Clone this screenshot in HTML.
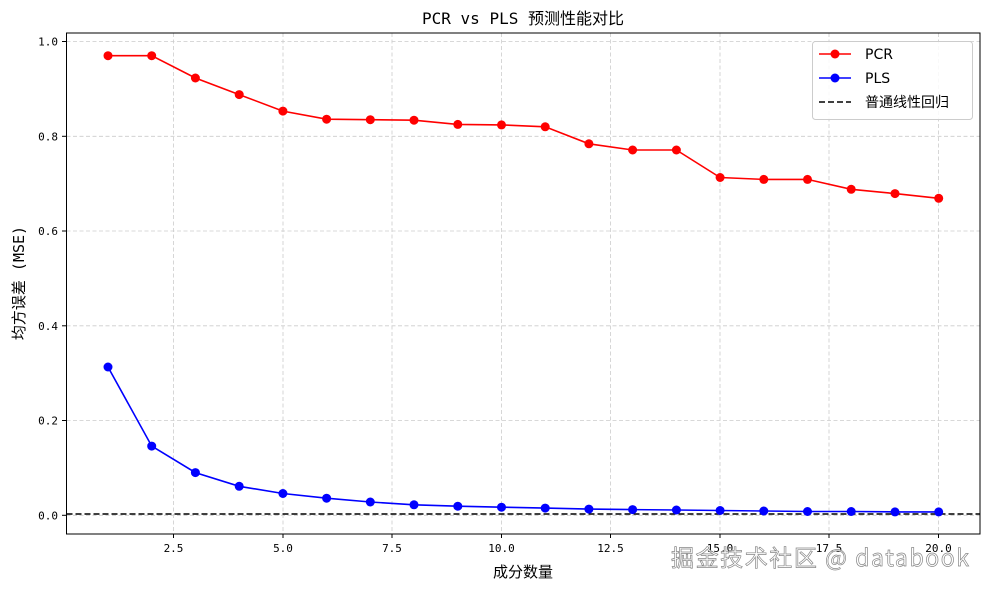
<!DOCTYPE html>
<html><head><meta charset="utf-8"><style>body{margin:0;background:#fff}svg{display:block}</style></head><body>
<svg width="989" height="590" xmlns="http://www.w3.org/2000/svg" font-family="'DejaVu Sans Mono','Noto Sans CJK SC',monospace">
<defs>
<marker id="mr" markerUnits="userSpaceOnUse" markerWidth="10" markerHeight="10" refX="5" refY="5"><circle cx="5" cy="5" r="4.5" fill="red"/></marker>
<marker id="mb" markerUnits="userSpaceOnUse" markerWidth="10" markerHeight="10" refX="5" refY="5"><circle cx="5" cy="5" r="4.5" fill="blue"/></marker>
</defs>
<rect width="989" height="590" fill="#fff"/>
<g stroke="#ccc" stroke-width="0.8" stroke-dasharray="4,2.5">
<line x1="173.5" y1="33" x2="173.5" y2="534"/><line x1="283" y1="33" x2="283" y2="534"/><line x1="392" y1="33" x2="392" y2="534"/><line x1="501.5" y1="33" x2="501.5" y2="534"/><line x1="610.5" y1="33" x2="610.5" y2="534"/><line x1="720" y1="33" x2="720" y2="534"/><line x1="829" y1="33" x2="829" y2="534"/><line x1="938.5" y1="33" x2="938.5" y2="534"/>
<line x1="66.5" y1="41.5" x2="980" y2="41.5"/><line x1="66.5" y1="136.3" x2="980" y2="136.3"/><line x1="66.5" y1="231" x2="980" y2="231"/><line x1="66.5" y1="325.8" x2="980" y2="325.8"/><line x1="66.5" y1="420.5" x2="980" y2="420.5"/><line x1="66.5" y1="515.3" x2="980" y2="515.3"/>
</g>
<line x1="66.5" y1="514" x2="980" y2="514" stroke="#000" stroke-width="1.6" stroke-dasharray="6,3"/>
<polyline fill="none" stroke="red" stroke-width="1.6" marker-start="url(#mr)" marker-mid="url(#mr)" marker-end="url(#mr)" points="108,55.7 151.7,55.7 195.4,78 239.2,94.6 282.9,111.1 326.6,119.2 370.3,119.7 414,120.2 457.8,124.4 501.5,124.9 545.2,126.8 588.9,143.8 632.6,150 676.4,150 720.1,177.5 763.8,179.4 807.5,179.4 851.2,189.3 895,193.6 938.7,198.3"/>
<polyline fill="none" stroke="blue" stroke-width="1.6" marker-start="url(#mb)" marker-mid="url(#mb)" marker-end="url(#mb)" points="108,367 151.7,446.1 195.4,472.6 239.2,486.3 282.9,493.5 326.6,498.2 370.3,502 414,504.8 457.8,506.2 501.5,507.2 545.2,508.1 588.9,509.1 632.6,509.6 676.4,510 720.1,510.5 763.8,511 807.5,511.5 851.2,511.5 895,511.9 938.7,511.9"/>
<rect x="66.5" y="33" width="913.5" height="501" fill="none" stroke="#000" stroke-width="1"/>
<g font-size="11" fill="#000" text-anchor="end">
<text x="58" y="45.5">1.0</text><text x="58" y="140.3">0.8</text><text x="58" y="235">0.6</text><text x="58" y="329.8">0.4</text><text x="58" y="424.5">0.2</text><text x="58" y="519.3">0.0</text>
</g>
<g stroke="#000"><line x1="62" y1="41.5" x2="66.5" y2="41.5"/><line x1="62" y1="136.3" x2="66.5" y2="136.3"/><line x1="62" y1="231" x2="66.5" y2="231"/><line x1="62" y1="325.8" x2="66.5" y2="325.8"/><line x1="62" y1="420.5" x2="66.5" y2="420.5"/><line x1="62" y1="515.3" x2="66.5" y2="515.3"/>
<line x1="173.5" y1="534" x2="173.5" y2="538"/><line x1="283" y1="534" x2="283" y2="538"/><line x1="392" y1="534" x2="392" y2="538"/><line x1="501.5" y1="534" x2="501.5" y2="538"/><line x1="610.5" y1="534" x2="610.5" y2="538"/><line x1="720" y1="534" x2="720" y2="538"/><line x1="829" y1="534" x2="829" y2="538"/><line x1="938.5" y1="534" x2="938.5" y2="538"/></g>
<g font-size="11" text-anchor="middle"><text x="173.5" y="552">2.5</text><text x="283" y="552">5.0</text><text x="392" y="552">7.5</text><text x="501.5" y="552">10.0</text><text x="610.5" y="552">12.5</text><text x="720" y="552">15.0</text><text x="829" y="552">17.5</text><text x="938.5" y="552">20.0</text></g>
<text x="523" y="24" font-size="16" text-anchor="middle">PCR vs PLS 预测性能对比</text>
<text x="523" y="577" font-size="15" text-anchor="middle">成分数量</text>
<text transform="translate(24,283) rotate(-90)" font-size="15" text-anchor="middle">均方误差 (MSE)</text>
<rect x="812.5" y="41.5" width="160" height="78" rx="3" fill="#fff" fill-opacity="0.85" stroke="#ccc"/>
<line x1="819" y1="54" x2="851" y2="54" stroke="red" stroke-width="1.6"/><circle cx="835" cy="54" r="4.5" fill="red"/>
<line x1="819" y1="78" x2="851" y2="78" stroke="blue" stroke-width="1.6"/><circle cx="835" cy="78" r="4.5" fill="blue"/>
<line x1="819" y1="102" x2="851" y2="102" stroke="#000" stroke-width="1.6" stroke-dasharray="6,3"/>
<g font-family="'DejaVu Sans','Noto Sans CJK SC',sans-serif" font-size="14"><text x="865" y="59">PCR</text><text x="865" y="83">PLS</text><text x="865" y="107">普通线性回归</text></g>
<text x="671" y="566" font-family="'Noto Sans CJK SC',sans-serif" font-size="23" fill="#fff" fill-opacity="0.7" stroke="#888" stroke-width="0.7" textLength="298">掘金技术社区 @ databook</text>
</svg>
</body></html>
